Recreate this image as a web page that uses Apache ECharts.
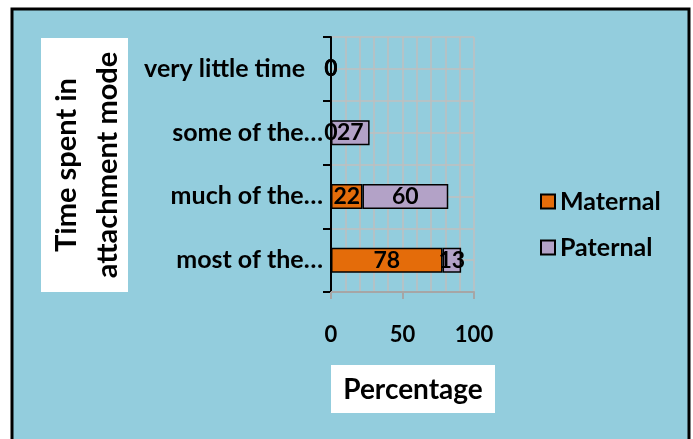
<!DOCTYPE html>
<html>
<head>
<meta charset="utf-8">
<script src="https://cdn.jsdelivr.net/npm/echarts@6/dist/echarts.min.js"></script>
<style>
  html, body { margin: 0; padding: 0; background: #fff; }
  #chart { width: 693px; height: 439px; }
</style>
</head>
<body>
<div id="chart"></div>
<script>
const categories = ['very little time', 'some of the…', 'much of the…', 'most of the…'];
const maternal = [0, 0, 22, 78];
const paternal = [0, 27, 60, 13];
const xTicks = [0, 50, 100];

const font = 'Lato';
const bg = '#93cddd';

const myChart = echarts.init(document.getElementById('chart'));

const barLabel = {
  show: true,
  position: 'inside',
  color: '#000',
  fontFamily: font,
  fontWeight: 'bold',
  fontSize: 23
};

const option = {
  animation: false,
  textStyle: { fontFamily: font },
  graphic: [
    {
      type: 'rect', z: -10,
      shape: { x: 12, y: 9, width: 677, height: 440 },
      style: { fill: bg, stroke: '#000', lineWidth: 3 }
    },
    {
      type: 'rect', z: -5,
      shape: { x: 41, y: 38, width: 87, height: 254 },
      style: { fill: '#fff' }
    },
    {
      type: 'text', x: 87, y: 165, rotation: Math.PI / 2,
      style: {
        text: 'Time spent in\nattachment mode',
        align: 'center', verticalAlign: 'middle',
        font: 'bold 29px ' + font, lineHeight: 41, fill: '#000'
      }
    },
    {
      type: 'rect', z: -5,
      shape: { x: 331, y: 365, width: 164, height: 48 },
      style: { fill: '#fff' }
    },
    {
      type: 'text', x: 413, y: 390,
      style: {
        text: 'Percentage',
        align: 'center', verticalAlign: 'middle',
        font: 'bold 28px ' + font, fill: '#000'
      }
    }
  ],
  legend: {
    orient: 'vertical',
    left: 535,
    top: 184,
    itemWidth: 14,
    itemHeight: 14,
    itemGap: 21,
    icon: 'rect',
    textStyle: { color: '#000', fontFamily: font, fontWeight: 'bold', fontSize: 25 },
    data: ['Maternal', 'Paternal']
  },
  grid: { left: 331, right: 219, top: 37, height: 255 },
  xAxis: {
    type: 'value',
    min: 0, max: 100, interval: 50,
    axisLine: { show: true, lineStyle: { color: '#a6a6a6', width: 2 } },
    axisTick: { show: true, length: 7, lineStyle: { color: '#a6a6a6', width: 2 } },
    axisLabel: {
      margin: 32, color: '#000', fontFamily: font, fontWeight: 'bold', fontSize: 22,
      formatter: v => xTicks.includes(v) ? String(v) : ''
    },
    splitLine: { show: true, lineStyle: { color: '#bfbfbf', width: 1.5 } },
    minorTick: { show: false, splitNumber: 5 },
    minorSplitLine: { show: true, lineStyle: { color: '#bfbfbf', width: 1.5 } }
  },
  yAxis: [
    {
      type: 'category',
      inverse: true,
      data: categories,
      axisLine: { show: true, lineStyle: { color: '#000', width: 2 } },
      axisTick: { show: true, length: 8, lineStyle: { color: '#000', width: 2 } },
      axisLabel: {
        margin: 8, color: '#000', fontFamily: font, fontWeight: 'bold', fontSize: 25,
        // the first label sits a little further from the axis in the original
        formatter: (v, i) => i === 0 ? '{p|' + v + '}' : v,
        rich: { p: { padding: [0, 18, 0, 0], color: '#000', fontFamily: font, fontWeight: 'bold', fontSize: 25 } }
      },
      splitLine: { show: false }
    },
    {
      type: 'value',
      min: 0, max: 8, interval: 1,
      position: 'left',
      axisLine: { show: false },
      axisTick: { show: false },
      axisLabel: { show: false },
      splitLine: { show: true, lineStyle: { color: '#bfbfbf', width: 1.5 } }
    }
  ],
  series: [
    {
      name: 'Maternal',
      type: 'bar',
      stack: 'total',
      barWidth: 25,
      data: maternal,
      itemStyle: { color: '#e46c0a', borderColor: '#000', borderWidth: 1.5 },
      label: barLabel
    },
    {
      name: 'Paternal',
      type: 'bar',
      stack: 'total',
      barWidth: 25,
      data: paternal,
      itemStyle: { color: '#b3a2c7', borderColor: '#000', borderWidth: 1.5 },
      label: barLabel
    }
  ]
};

myChart.setOption(option);
</script>
</body>
</html>
